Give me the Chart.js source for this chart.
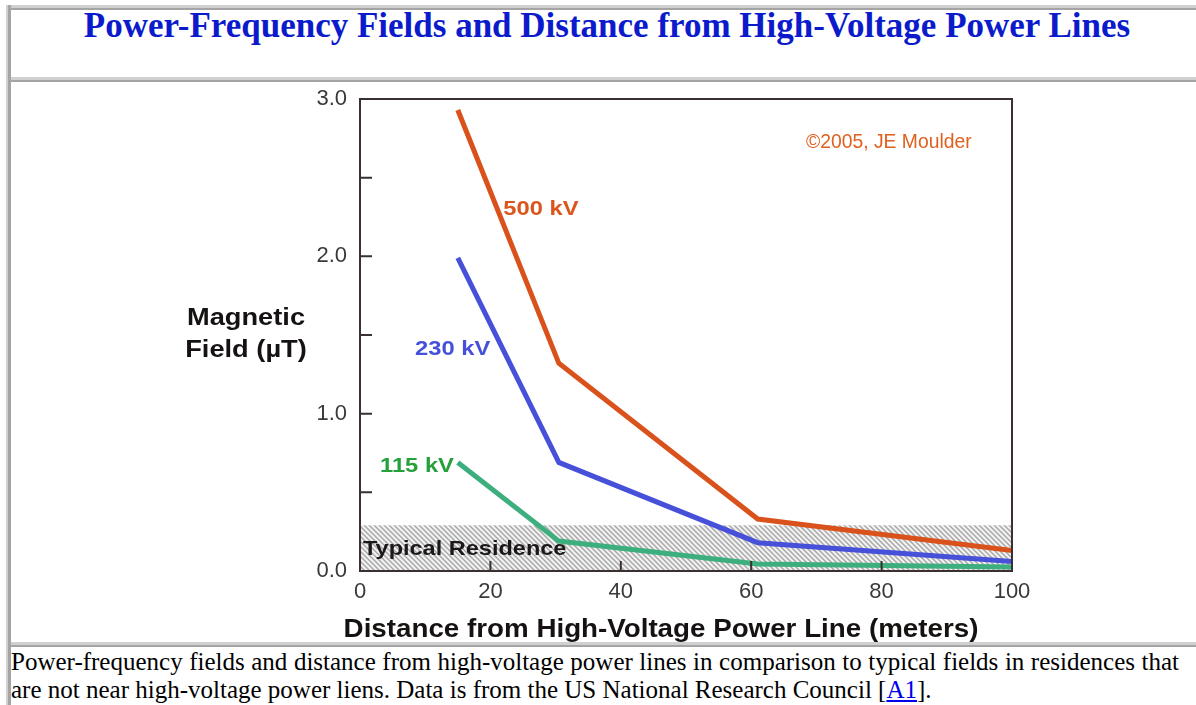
<!doctype html>
<html lang="en">
<head>
<meta charset="utf-8">
<title>Power-Frequency Fields and Distance from High-Voltage Power Lines</title>
<style>
  * { margin: 0; padding: 0; }
  body { width: 1196px; height: 705px; overflow: hidden; position: relative; background: #fff; }
  .edge { position: absolute; box-sizing: border-box; }
  .hline { height: 5px; border-top: 3px solid #d0d0d0; border-bottom: 2px solid #a4a4a4; }
  .vline { width: 5px; border-left: 2px solid #d0d0d0; border-right: 3px solid #a4a4a4; }
  .title {
    position: absolute; left: 11px; top: 8px; width: 1192px;
    text-align: center; font: bold 35px 'Liberation Serif', 'Times New Roman', serif;
    line-height: 35px; color: #0b1bcc;
  }
  .chartBox { position: absolute; left: 11px; top: 82px; width: 1185px; height: 560px; }
  .caption {
    position: absolute; left: 11px; top: 648px; width: 1168px;
    font: 25px 'Liberation Serif', 'Times New Roman', serif; line-height: 28px; color: #000;
  }
  .caption .first { text-align: justify; text-align-last: justify; white-space: nowrap; }
  .caption a { color: #0000ee; }
</style>
</head>
<body>
  <div class="edge hline" style="left:6px; top:5px; width:1190px;"></div>
  <div class="edge vline" style="left:6px; top:5px; height:700px;"></div>
  <div class="edge hline" style="left:11px; top:77px; width:1185px;"></div>
  <div class="edge hline" style="left:11px; top:642px; width:1185px;"></div>

  <div class="title">Power-Frequency Fields and Distance from High-Voltage Power Lines</div>

  <div class="chartBox">
    <canvas id="fieldChart"></canvas>
  </div>

  <div class="caption">
    <div class="first">Power-frequency fields and distance from high-voltage power lines in comparison to typical fields in residences that</div>
    <div>are not near high-voltage power liens. Data is from the US National Research Council [<a href="#A1">A1</a>].</div>
  </div>

  <script src="https://cdn.jsdelivr.net/npm/chart.js"></script>
  <script>
    // data (distance in m, field in µT)
    const distance = [15, 30.5, 61, 100];
    const field500 = [2.93, 1.32, 0.33, 0.13];
    const field230 = [1.99, 0.69, 0.18, 0.06];
    const field115 = [0.69, 0.19, 0.045, 0.025];
    const seriesNames = ['500 kV', '230 kV', '115 kV'];
    const residenceSpan = [0, 100];
    const residenceLevel = 0.29;
    const yMinorTicks = [0.5, 1, 1.5, 2, 2.5];
    const xMinorTicks = [20, 40, 60, 80];

    const SANS = "'Liberation Sans', Arial, sans-serif";
    const lineColors = ['#d9521b', '#4650d9', '#3daf7e'];
    const labelColors = ['#db561d', '#4650d9', '#25a03a'];

    const pts = (ys) => distance.map((d, i) => ({ x: d, y: ys[i] }));

    function hatch() {
      const c = document.createElement('canvas');
      c.width = c.height = 5;
      const g = c.getContext('2d');
      g.fillStyle = '#f2f2f2';
      g.fillRect(0, 0, 5, 5);
      g.strokeStyle = '#a6a6a6';
      g.lineWidth = 1.4;
      g.beginPath();
      g.moveTo(0, 0); g.lineTo(5, 5);
      g.moveTo(4, -1); g.lineTo(6, 1);
      g.moveTo(-1, 4); g.lineTo(1, 6);
      g.stroke();
      return g.createPattern(c, 'repeat');
    }

    function txt(ctx, s, x, y, font, color, sx, align) {
      ctx.save();
      ctx.translate(x, y);
      ctx.scale(sx, 1);
      ctx.font = font;
      ctx.fillStyle = color;
      ctx.textAlign = align || 'left';
      ctx.textBaseline = 'alphabetic';
      ctx.fillText(s, 0, 0);
      ctx.restore();
    }

    const lineSet = (name, ys, color) => ({
      label: name,
      data: pts(ys),
      borderColor: color,
      borderWidth: 5,
      borderCapStyle: 'butt',
      borderJoinStyle: 'miter',
      pointRadius: 0,
      tension: 0,
      fill: false
    });

    const data = {
      datasets: [
        lineSet(seriesNames[0], field500, lineColors[0]),
        lineSet(seriesNames[1], field230, lineColors[1]),
        lineSet(seriesNames[2], field115, lineColors[2]),
        {
          label: 'Typical Residence',
          data: residenceSpan.map(x => ({ x, y: residenceLevel })),
          borderColor: 'rgba(0,0,0,0)',
          borderWidth: 1,
          backgroundColor: hatch(),
          pointRadius: 0,
          fill: 'origin'
        }
      ]
    };

    // labels, frame, inward ticks and axis titles
    const decor = {
      id: 'decor',
      afterDatasetDraw(chart, args) {
        if (args.index !== 3) return;
        const { x, y } = chart.scales;
        txt(chart.ctx, 'Typical Residence', x.getPixelForValue(0.45), y.getPixelForValue(0.102),
          'bold 21px ' + SANS, '#1d1818', 1.12);
      },
      afterDraw(chart) {
        const ctx = chart.ctx;
        const { x, y } = chart.scales;
        const a = chart.chartArea;

        ctx.save();
        ctx.strokeStyle = '#3a3030';
        ctx.lineWidth = 2;
        ctx.strokeRect(a.left, a.top, a.right - a.left, a.bottom - a.top);
        ctx.beginPath();
        yMinorTicks.forEach(v => {
          const py = y.getPixelForValue(v);
          ctx.moveTo(a.left, py); ctx.lineTo(a.left + 12, py);
        });
        xMinorTicks.forEach(v => {
          const px = x.getPixelForValue(v);
          ctx.moveTo(px, a.bottom); ctx.lineTo(px, a.bottom - 10);
        });
        ctx.stroke();
        ctx.restore();

        const lf = 'bold 21px ' + SANS;
        txt(ctx, seriesNames[0], x.getPixelForValue(21.97), y.getPixelForValue(2.263), lf, labelColors[0], 1.13);
        txt(ctx, seriesNames[1], x.getPixelForValue(8.45), y.getPixelForValue(1.373), lf, labelColors[1], 1.13);
        txt(ctx, seriesNames[2], x.getPixelForValue(3.07), y.getPixelForValue(0.629), lf, labelColors[2], 1.13);
        txt(ctx, '\u00a92005, JE Moulder', x.getPixelForValue(68.4), y.getPixelForValue(2.69),
          '21px ' + SANS, '#e0601f', 0.92);

        const tf = 'bold 24px ' + SANS;
        txt(ctx, 'Magnetic', a.left - 114, a.top + 226, tf, '#161212', 1.135, 'center');
        txt(ctx, 'Field (\u00b5T)', a.left - 114, a.top + 258, tf, '#161212', 1.135, 'center');
        txt(ctx, 'Distance from High-Voltage Power Line (meters)', a.left + 301, a.bottom + 66,
          'bold 25px ' + SANS, '#161212', 1.11, 'center');
      }
    };

    const config = {
      type: 'line',
      data,
      options: {
        responsive: true,
        maintainAspectRatio: false,
        animation: false,
        layout: { padding: { left: 0, right: 184, top: 17, bottom: 0 } },
        plugins: {
          legend: { display: false },
          tooltip: { enabled: false }
        },
        scales: {
          x: {
            type: 'linear',
            min: 0,
            max: 100,
            grid: { display: false, drawTicks: false },
            border: { display: false },
            ticks: {
              stepSize: 20,
              padding: 8,
              color: '#3a3a3a',
              font: { family: SANS, size: 22 }
            },
            afterFit(scale) { scale.height = 71; }
          },
          y: {
            min: 0,
            max: 3,
            grid: { display: false, drawTicks: false },
            border: { display: false },
            ticks: {
              stepSize: 1,
              padding: 13,
              color: '#3a3a3a',
              font: { family: SANS, size: 22 },
              callback: v => v.toFixed(1)
            },
            afterFit(scale) {
              scale.width = 349;
              scale.paddingTop = 0;
              scale.paddingBottom = 0;
            }
          }
        }
      },
      plugins: [decor]
    };

    const fieldChart = new Chart(document.getElementById('fieldChart'), config);
  </script>
</body>
</html>
